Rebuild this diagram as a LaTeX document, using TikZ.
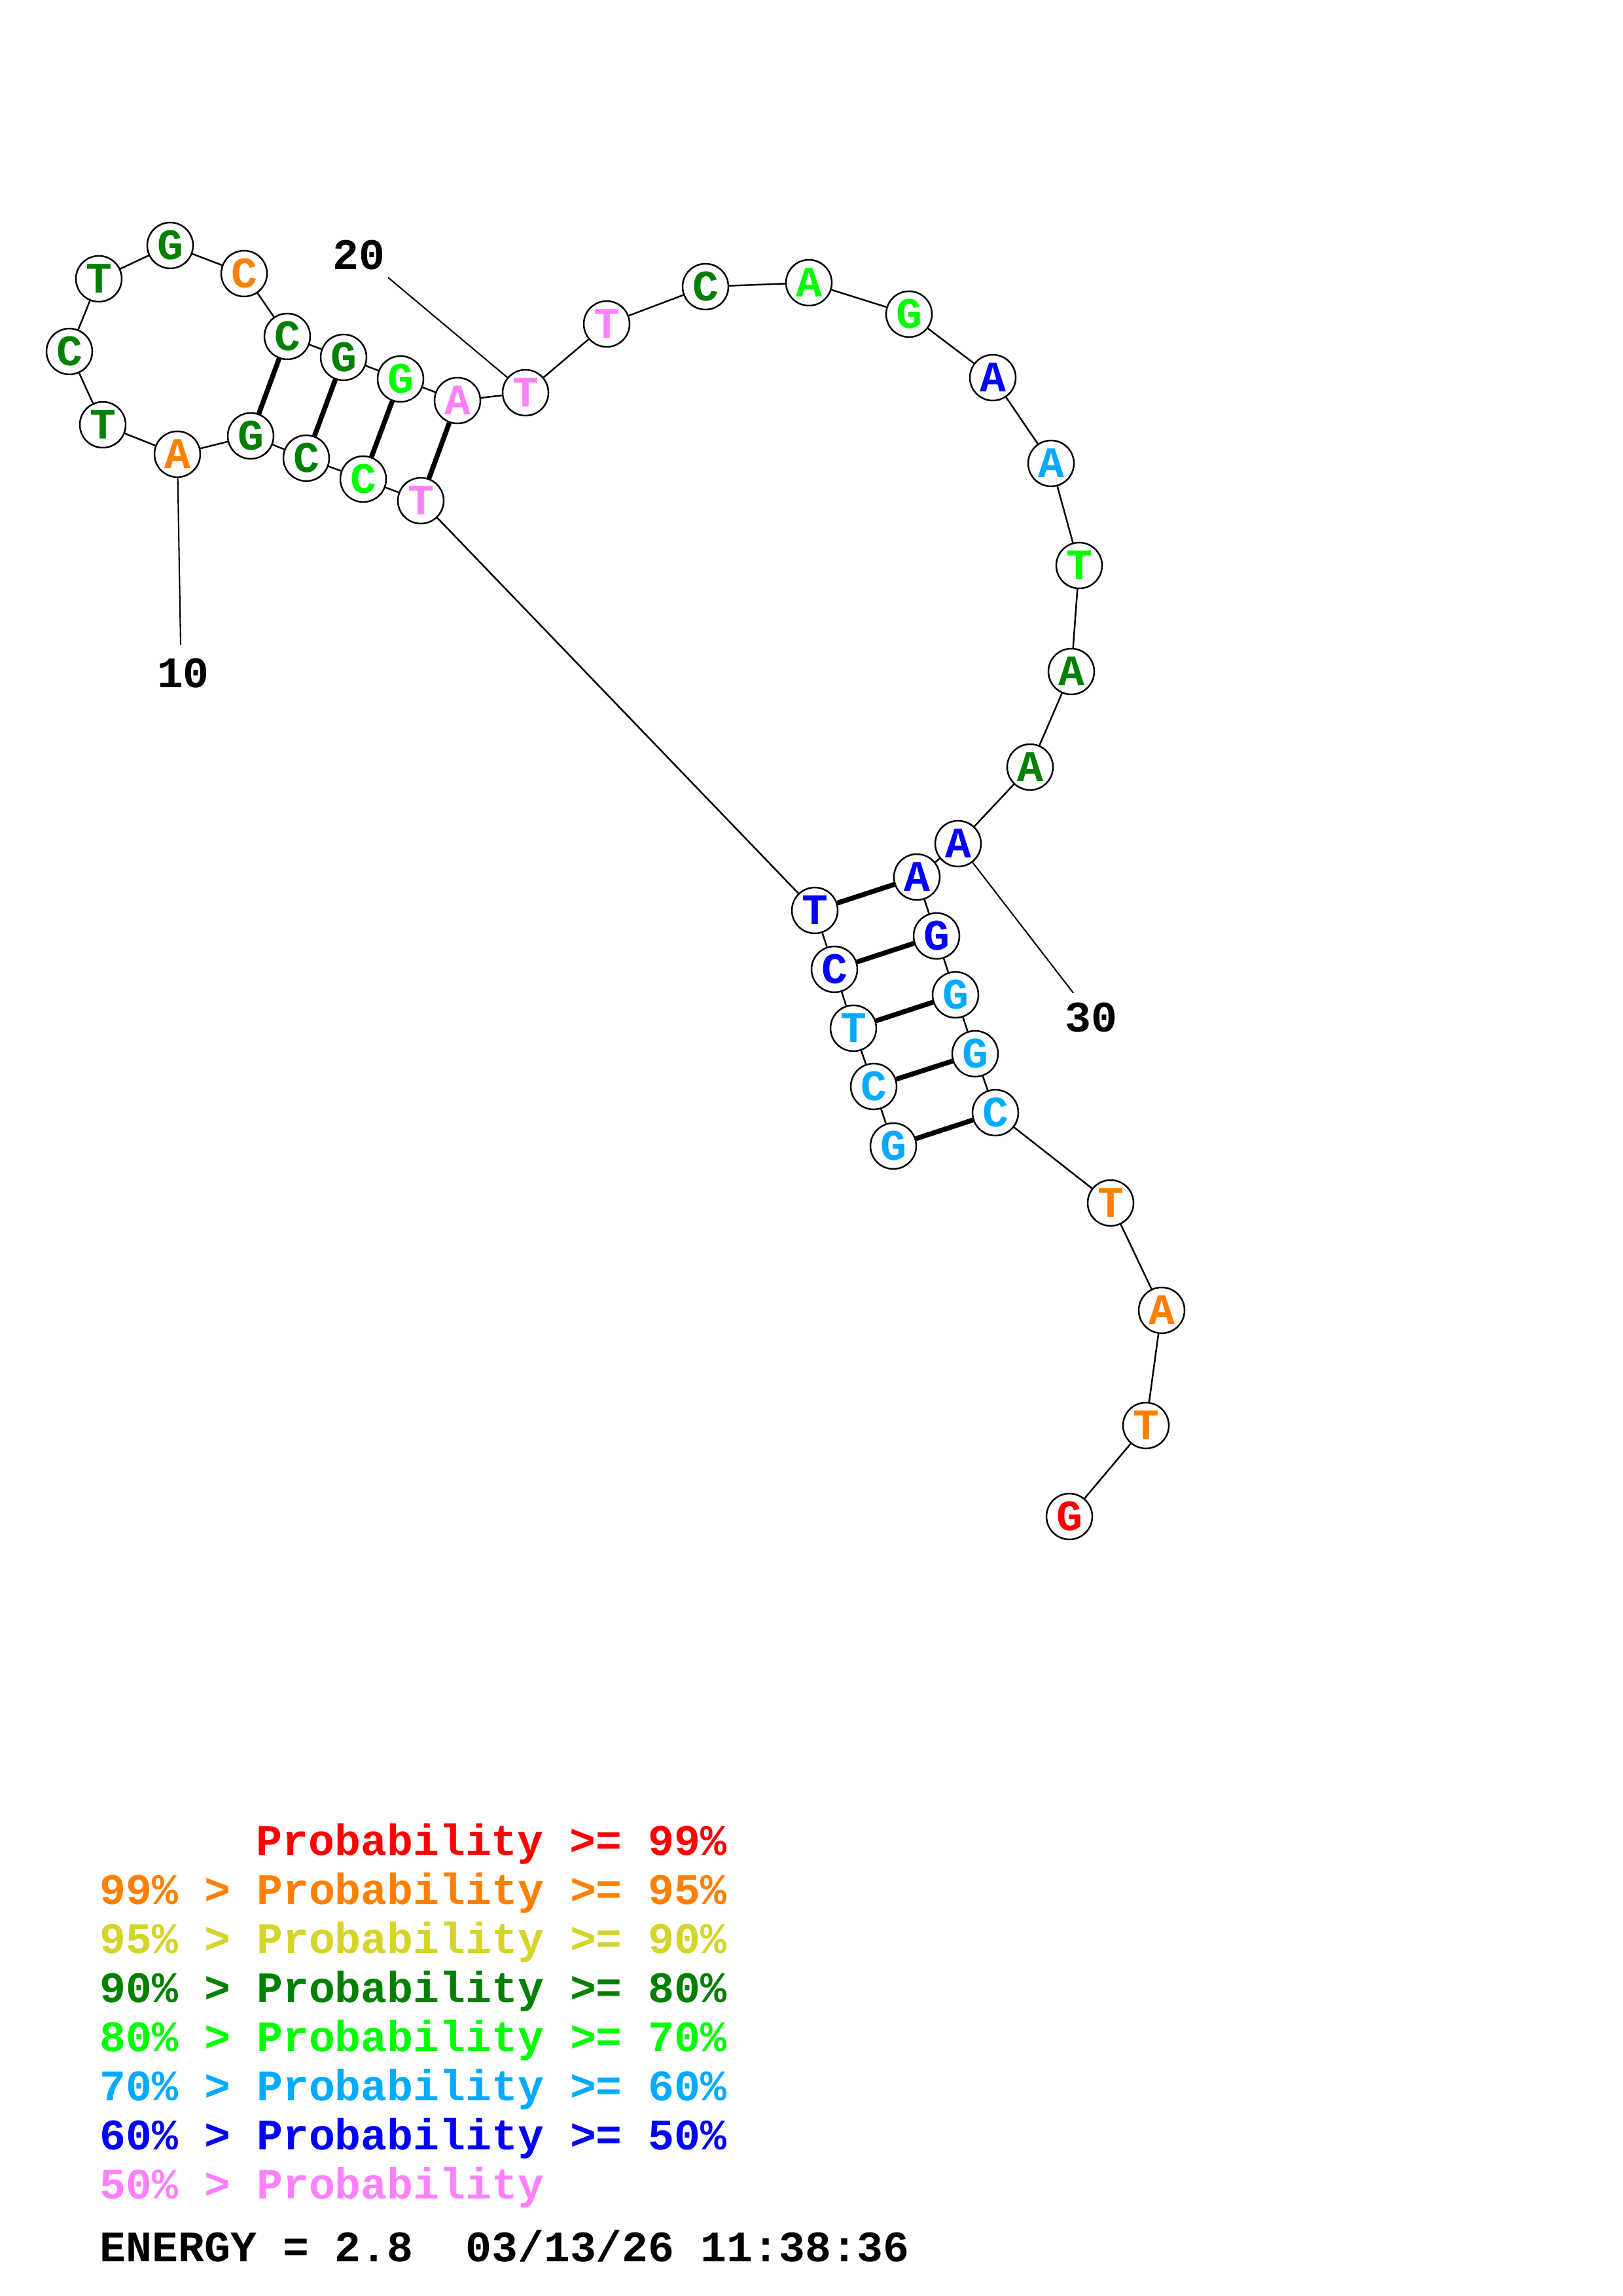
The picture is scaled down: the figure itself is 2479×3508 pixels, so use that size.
\documentclass[tikz,border=0pt]{standalone}
\usepackage{fontspec}
\setmonofont{Liberation Mono}
\definecolor{cred}{RGB}{255,0,0}
\definecolor{corange}{RGB}{255,128,0}
\definecolor{cyellow}{RGB}{212,212,42}
\definecolor{cdgreen}{RGB}{0,128,0}
\definecolor{cgreen}{RGB}{0,255,0}
\definecolor{clblue}{RGB}{0,170,255}
\definecolor{cblue}{RGB}{0,0,255}
\definecolor{cpink}{RGB}{255,128,255}
\begin{document}
\begin{tikzpicture}[x=0.24pt,y=-0.24pt,
  nt/.style={circle,draw=black,line width=0.6pt,fill=white,minimum size=16.8pt,inner sep=0pt,
    font=\fontsize{15.96}{16}\selectfont\ttfamily\bfseries},
  bb/.style={line width=0.6pt},
  bp/.style={line width=1.8pt},
  lead/.style={line width=0.5pt},
  num/.style={inner sep=0pt,font=\fontsize{15.96}{16}\selectfont\ttfamily\bfseries},
  leg/.style={anchor=base west,inner sep=0pt,font=\fontsize{15.96}{16}\selectfont\ttfamily\bfseries}]
\useasboundingbox (0,0) rectangle (2479,3508);
% nucleotides
\node[nt,text=clblue]  (n1)  at (1365,1751) {G};
\node[nt,text=clblue]  (n2)  at (1335,1660) {C};
\node[nt,text=clblue]  (n3)  at (1304,1571) {T};
\node[nt,text=cblue]   (n4)  at (1275,1481) {C};
\node[nt,text=cblue]   (n5)  at (1245,1391) {T};
\node[nt,text=cpink]   (n6)  at (643,765) {T};
\node[nt,text=cgreen]  (n7)  at (555,732) {C};
\node[nt,text=cdgreen] (n8)  at (468,700) {C};
\node[nt,text=cdgreen] (n9)  at (383,666) {G};
\node[nt,text=corange] (n10) at (271,694) {A};
\node[nt,text=cdgreen] (n11) at (157,649) {T};
\node[nt,text=cdgreen] (n12) at (106,537) {C};
\node[nt,text=cdgreen] (n13) at (151,426) {T};
\node[nt,text=cdgreen] (n14) at (260,375) {G};
\node[nt,text=corange] (n15) at (373,418) {C};
\node[nt,text=cdgreen] (n16) at (439,514) {C};
\node[nt,text=cdgreen] (n17) at (525,546) {G};
\node[nt,text=cgreen]  (n18) at (612,579) {G};
\node[nt,text=cpink]   (n19) at (699,612) {A};
\node[nt,text=cpink]   (n20) at (803,600) {T};
\node[nt,text=cpink]   (n21) at (927,495) {T};
\node[nt,text=cdgreen] (n22) at (1078,438) {C};
\node[nt,text=cgreen]  (n23) at (1236,432) {A};
\node[nt,text=cgreen]  (n24) at (1389,480) {G};
\node[nt,text=cblue]   (n25) at (1517,577) {A};
\node[nt,text=clblue]  (n26) at (1606,708) {A};
\node[nt,text=cgreen]  (n27) at (1649,864) {T};
\node[nt,text=cdgreen] (n28) at (1637,1026) {A};
\node[nt,text=cdgreen] (n29) at (1574,1172) {A};
\node[nt,text=cblue]   (n30) at (1464,1289) {A};
\node[nt,text=cblue]   (n31) at (1401,1340) {A};
\node[nt,text=cblue]   (n32) at (1431,1430) {G};
\node[nt,text=clblue]  (n33) at (1460,1520) {G};
\node[nt,text=clblue]  (n34) at (1490,1610) {G};
\node[nt,text=clblue]  (n35) at (1521,1700) {C};
\node[nt,text=corange] (n36) at (1697,1838) {T};
\node[nt,text=corange] (n37) at (1775,2002) {A};
\node[nt,text=corange] (n38) at (1751,2178) {T};
\node[nt,text=cred]    (n39) at (1634,2317) {G};
% backbone
\foreach \a/\b in {1/2,2/3,3/4,4/5,5/6,6/7,7/8,8/9,9/10,10/11,11/12,12/13,13/14,14/15,15/16,16/17,17/18,18/19,19/20,20/21,21/22,22/23,23/24,24/25,25/26,26/27,27/28,28/29,29/30,30/31,31/32,32/33,33/34,34/35,35/36,36/37,37/38,38/39}
  \draw[bb] (n\a) -- (n\b);
% base pairs
\foreach \a/\b in {1/35,2/34,3/33,4/32,5/31,6/19,7/18,8/17,9/16}
  \draw[bp] (n\a) -- (n\b);
% numbering
\coordinate (c10) at (276,985);
\coordinate (c20) at (593,424);
\coordinate (c30) at (1640,1517);
\draw[lead] (n10) -- (c10);
\draw[lead] (n20) -- (c20);
\draw[lead] (n30) -- (c30);
\node[num] (t10) at (280,1029) {10};
\node[num] (t20) at (548,390) {20};
\node[num] (t30) at (1667,1555) {30};
% legend
\node[leg,text=cred]    (g1) at (391,2834) {Probability >= 99\%};
\node[leg,text=corange] (g2) at (152,2909) {99\% > Probability >= 95\%};
\node[leg,text=cyellow] (g3) at (152,2984) {95\% > Probability >= 90\%};
\node[leg,text=cdgreen] (g4) at (152,3059) {90\% > Probability >= 80\%};
\node[leg,text=cgreen]  (g5) at (152,3134) {80\% > Probability >= 70\%};
\node[leg,text=clblue]  (g6) at (152,3209) {70\% > Probability >= 60\%};
\node[leg,text=cblue]   (g7) at (152,3284) {60\% > Probability >= 50\%};
\node[leg,text=cpink]   (g8) at (152,3359) {50\% > Probability};
\node[leg,text=black]   (g9) at (152,3455) {ENERGY = 2.8\ \ 03/13/26 11:38:36};
\end{tikzpicture}
\end{document}
